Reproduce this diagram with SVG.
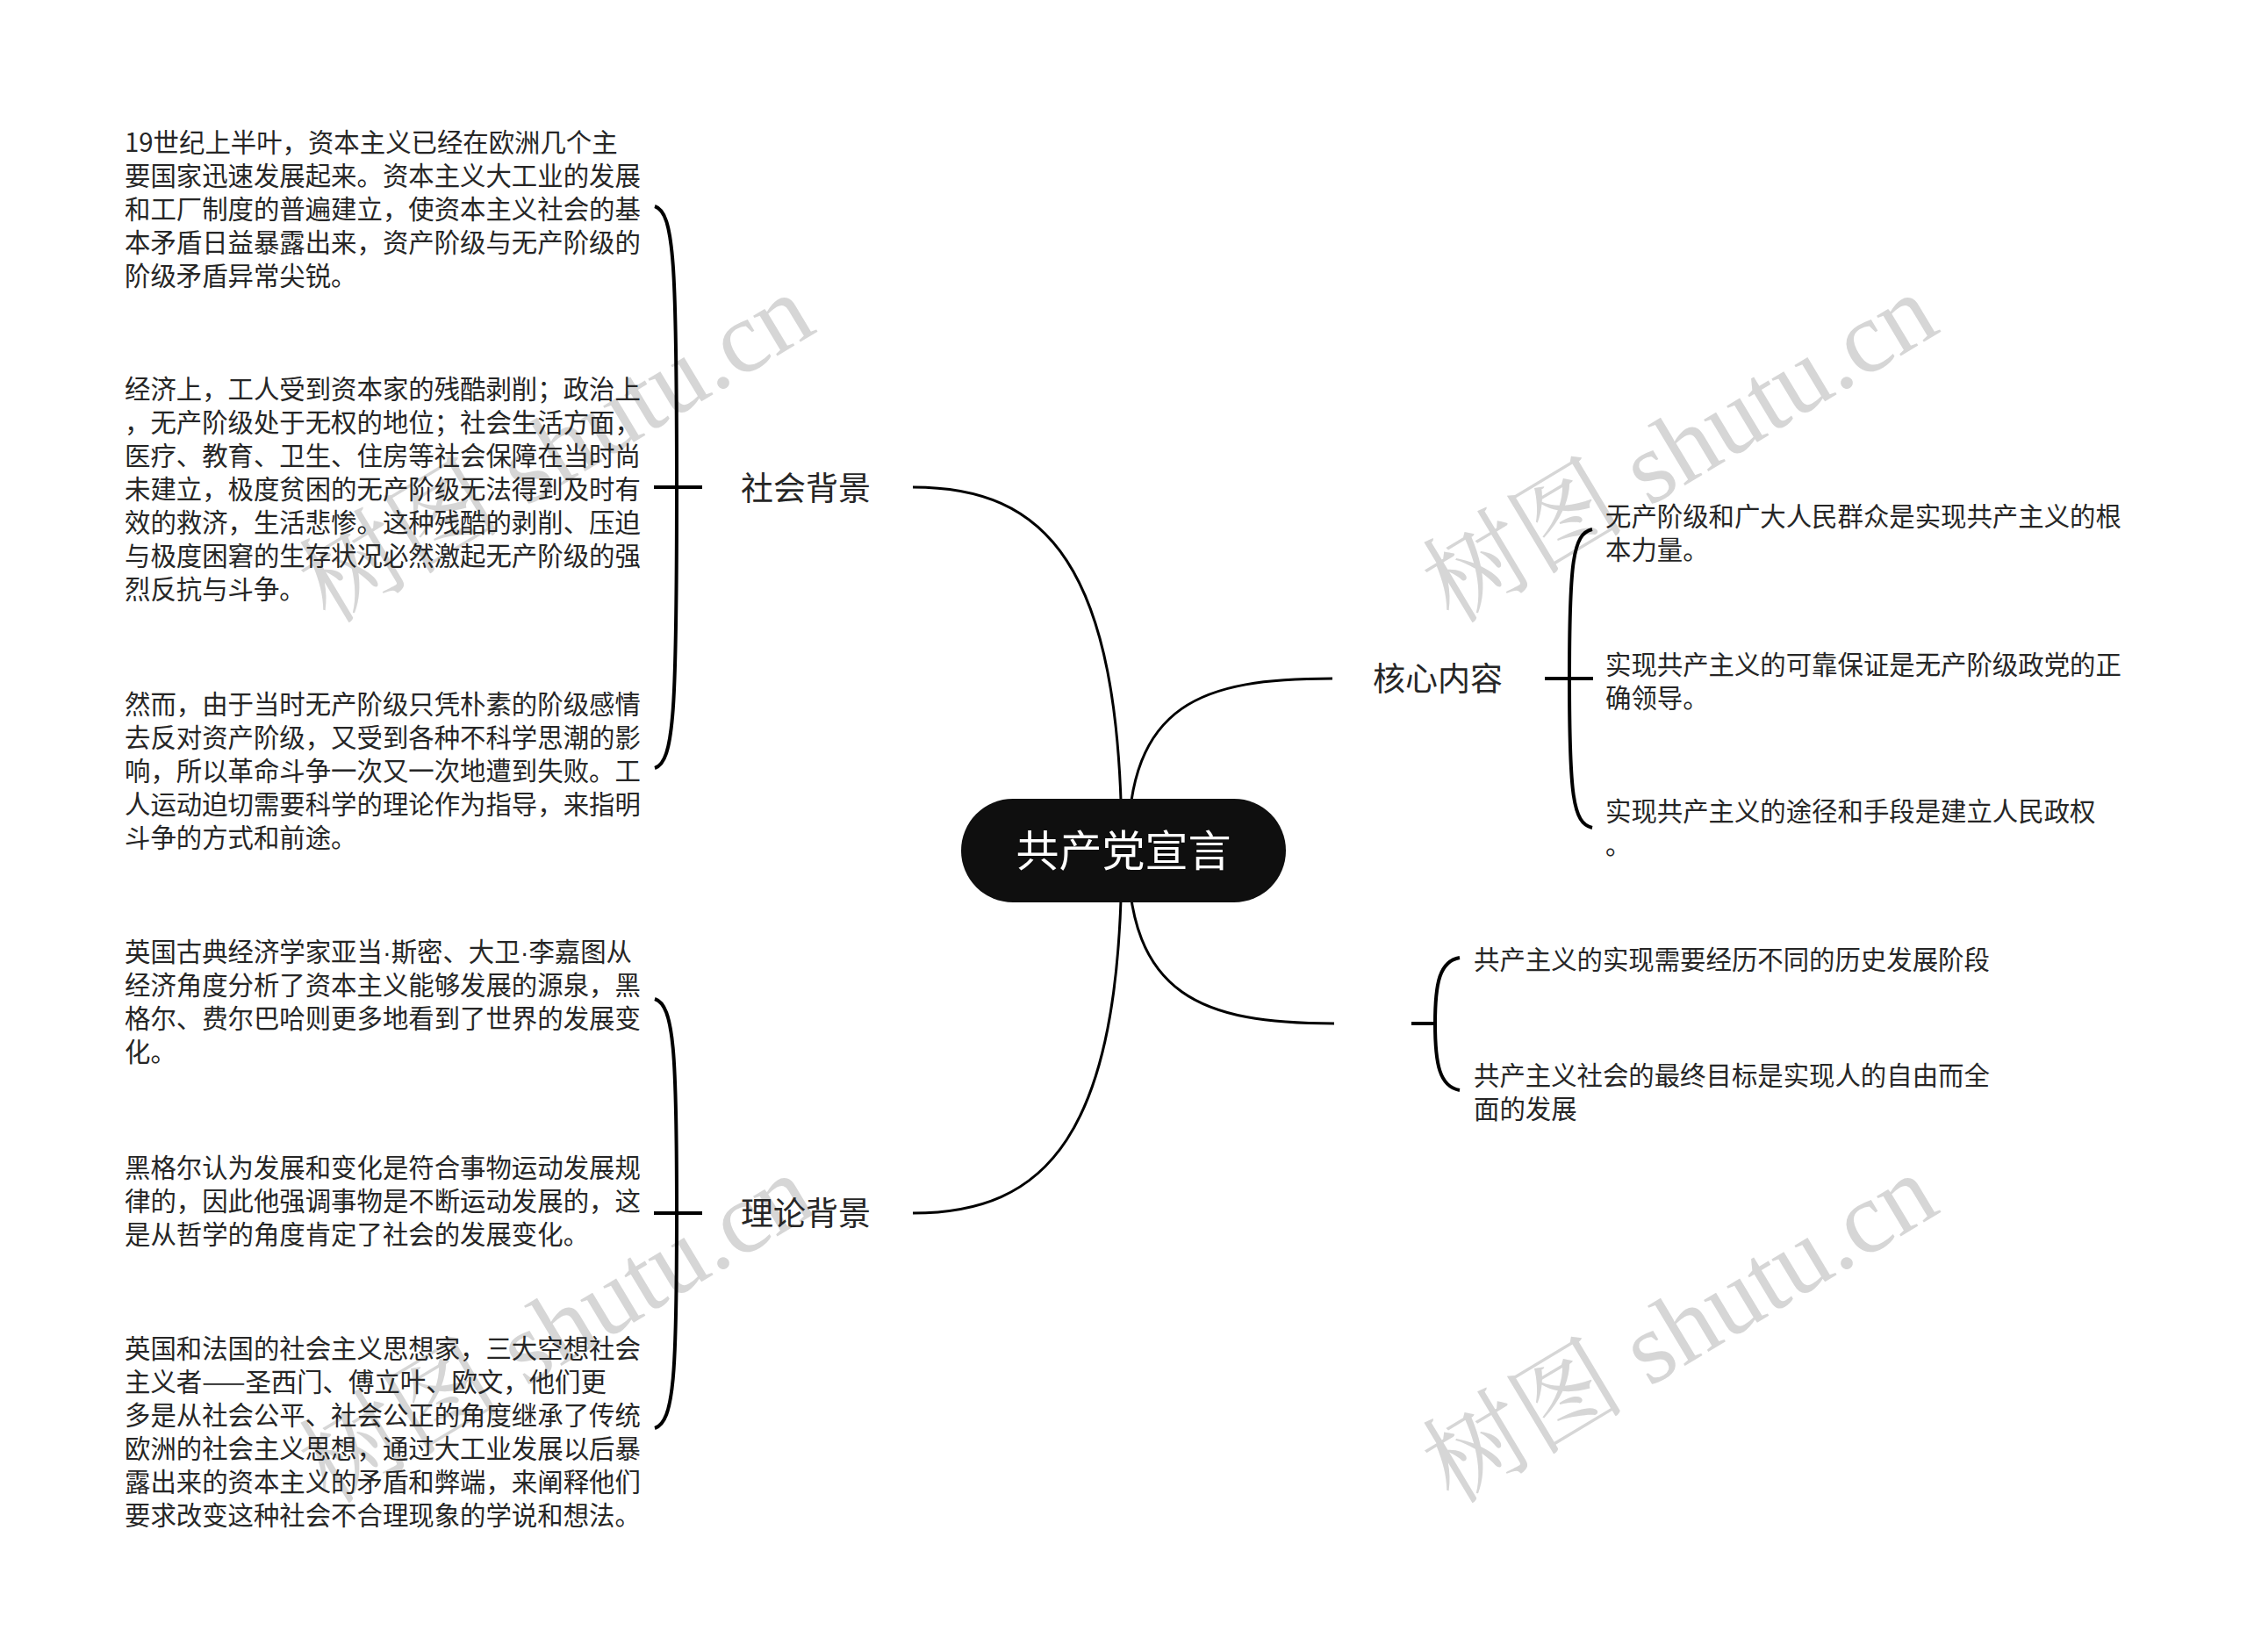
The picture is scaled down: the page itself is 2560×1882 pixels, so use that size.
<svg xmlns="http://www.w3.org/2000/svg" width="2560" height="1882" viewBox="0 0 2560 1882">
<style>
.t{font-family:"Noto Sans CJK SC","Noto Sans",sans-serif;font-size:29.4px;fill:#262626}
.lbl{font-family:"Noto Sans CJK SC","Noto Sans",sans-serif;font-size:37px;fill:#262626}
.root{font-family:"Noto Sans CJK SC","Noto Sans",sans-serif;font-size:49px;fill:#ffffff}
.wm{font-family:"Liberation Serif","Noto Serif CJK SC","Noto Sans CJK SC",serif;font-size:116px;fill:#d6d6d6}
.dot{font-family:"Liberation Sans",sans-serif}
.c{fill:none;stroke:#000;stroke-width:3}
.b{fill:none;stroke:#000;stroke-width:4}
</style>
<rect width="2560" height="1882" fill="#ffffff"/>
<g id="watermark">
<text class="wm" transform="translate(375,712) rotate(-31)">树图 shutu.cn</text>
<text class="wm" transform="translate(1655,712) rotate(-31)">树图 shutu.cn</text>
<text class="wm" transform="translate(375,1715) rotate(-31)">树图 shutu.cn</text>
<text class="wm" transform="translate(1655,1715) rotate(-31)">树图 shutu.cn</text>
</g>
<g id="connectors">
<path class="c" d="M1040,555 C1190,555 1278,640 1278,969"/>
<path class="c" d="M1040,1382 C1190,1382 1278,1297 1278,969"/>
<path class="c" d="M1285,969 C1285,800 1370,773 1518,773"/>
<path class="c" d="M1285,969 C1285,1135 1370,1166 1520,1166"/>
<path class="b" d="M745,555 H800"/>
<path class="b" d="M746,235 C768,242 771,300 771,555 C771,810 768,868 746,875"/>
<path class="b" d="M745,1382 H800"/>
<path class="b" d="M746,1138 C768,1145 771,1200 771,1382 C771,1565 768,1620 746,1627"/>
<path class="b" d="M1760,773 H1815"/>
<path class="b" d="M1814,603 C1792,608 1788,640 1788,773 C1788,906 1792,938 1814,943"/>
<path class="b" d="M1608,1166 H1635"/>
<path class="b" d="M1663,1091 C1640,1095 1635,1120 1635,1166 C1635,1212 1640,1238 1663,1242"/>
</g>
<g id="root">
<rect x="1095" y="910" width="370" height="118" rx="59" ry="59" fill="#0f0f0f"/>
<text class="root" x="1280" y="987" text-anchor="middle">共产党宣言</text>
</g>
<g id="n-social">
<text class="lbl" x="844" y="570">社会背景</text>
</g>
<g id="n-social-1">
<text class="t" x="142" y="173">19世纪上半叶，资本主义已经在欧洲几个主</text>
<text class="t" x="142" y="211">要国家迅速发展起来。资本主义大工业的发展</text>
<text class="t" x="142" y="249">和工厂制度的普遍建立，使资本主义社会的基</text>
<text class="t" x="142" y="287">本矛盾日益暴露出来，资产阶级与无产阶级的</text>
<text class="t" x="142" y="325">阶级矛盾异常尖锐。</text>
</g>
<g id="n-social-2">
<text class="t" x="142" y="454">经济上，工人受到资本家的残酷剥削；政治上</text>
<text class="t" x="142" y="492">，无产阶级处于无权的地位；社会生活方面，</text>
<text class="t" x="142" y="530">医疗、教育、卫生、住房等社会保障在当时尚</text>
<text class="t" x="142" y="568">未建立，极度贫困的无产阶级无法得到及时有</text>
<text class="t" x="142" y="606">效的救济，生活悲惨。这种残酷的剥削、压迫</text>
<text class="t" x="142" y="644">与极度困窘的生存状况必然激起无产阶级的强</text>
<text class="t" x="142" y="682">烈反抗与斗争。</text>
</g>
<g id="n-social-3">
<text class="t" x="142" y="813">然而，由于当时无产阶级只凭朴素的阶级感情</text>
<text class="t" x="142" y="851">去反对资产阶级，又受到各种不科学思潮的影</text>
<text class="t" x="142" y="889">响，所以革命斗争一次又一次地遭到失败。工</text>
<text class="t" x="142" y="927">人运动迫切需要科学的理论作为指导，来指明</text>
<text class="t" x="142" y="965">斗争的方式和前途。</text>
</g>
<g id="n-theory">
<text class="lbl" x="844" y="1396">理论背景</text>
</g>
<g id="n-theory-1">
<text class="t" x="142" y="1095">英国古典经济学家亚当<tspan class="dot">·</tspan>斯密、大卫<tspan class="dot">·</tspan>李嘉图从</text>
<text class="t" x="142" y="1133">经济角度分析了资本主义能够发展的源泉，黑</text>
<text class="t" x="142" y="1171">格尔、费尔巴哈则更多地看到了世界的发展变</text>
<text class="t" x="142" y="1209">化。</text>
</g>
<g id="n-theory-2">
<text class="t" x="142" y="1341">黑格尔认为发展和变化是符合事物运动发展规</text>
<text class="t" x="142" y="1379">律的，因此他强调事物是不断运动发展的，这</text>
<text class="t" x="142" y="1417">是从哲学的角度肯定了社会的发展变化。</text>
</g>
<g id="n-theory-3">
<text class="t" x="142" y="1547">英国和法国的社会主义思想家，三大空想社会</text>
<text class="t" x="142" y="1585">主义者——圣西门、傅立叶、欧文，他们更</text>
<text class="t" x="142" y="1623">多是从社会公平、社会公正的角度继承了传统</text>
<text class="t" x="142" y="1661">欧洲的社会主义思想，通过大工业发展以后暴</text>
<text class="t" x="142" y="1699">露出来的资本主义的矛盾和弊端，来阐释他们</text>
<text class="t" x="142" y="1737">要求改变这种社会不合理现象的学说和想法。</text>
</g>
<g id="n-core">
<text class="lbl" x="1564" y="787">核心内容</text>
</g>
<g id="n-core-1">
<text class="t" x="1829" y="599">无产阶级和广大人民群众是实现共产主义的根</text>
<text class="t" x="1829" y="637">本力量。</text>
</g>
<g id="n-core-2">
<text class="t" x="1829" y="768">实现共产主义的可靠保证是无产阶级政党的正</text>
<text class="t" x="1829" y="806">确领导。</text>
</g>
<g id="n-core-3">
<text class="t" x="1829" y="935">实现共产主义的途径和手段是建立人民政权</text>
<text class="t" x="1829" y="973">。</text>
</g>
<g id="n-goal-1">
<text class="t" x="1679" y="1104">共产主义的实现需要经历不同的历史发展阶段</text>
</g>
<g id="n-goal-2">
<text class="t" x="1679" y="1236">共产主义社会的最终目标是实现人的自由而全</text>
<text class="t" x="1679" y="1274">面的发展</text>
</g>
</svg>
